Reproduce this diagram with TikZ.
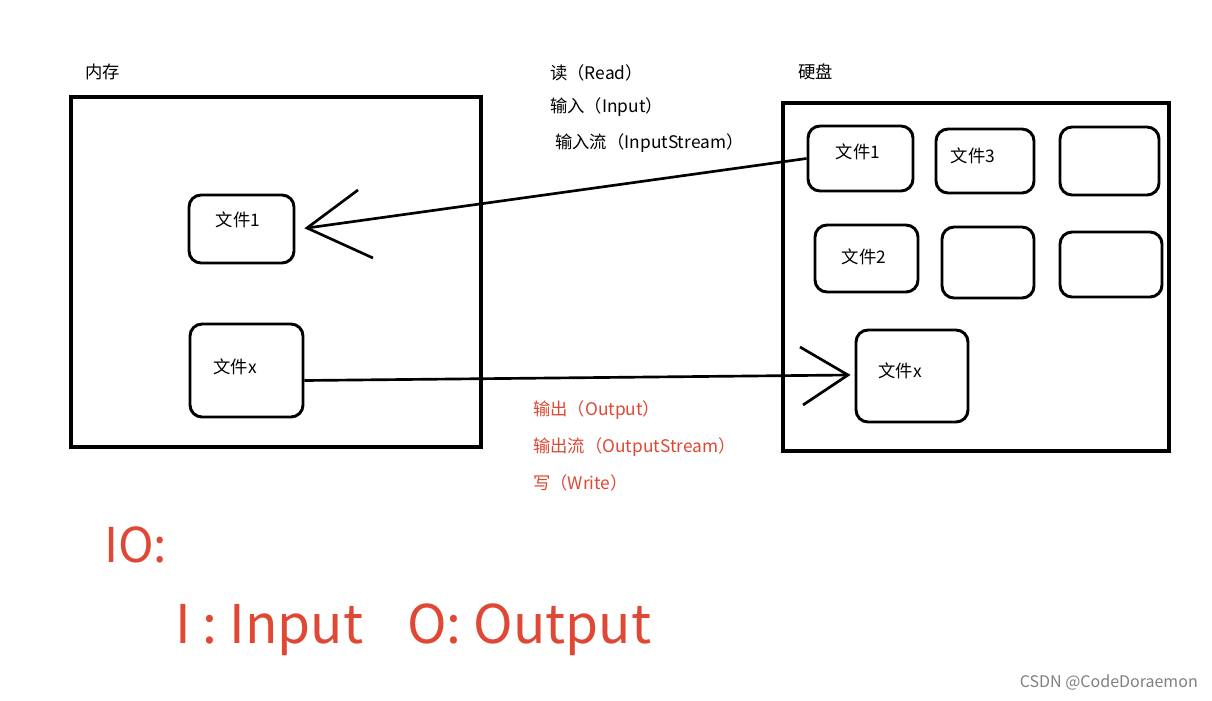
\documentclass[tikz,border=0pt]{standalone}
\usepackage{fontspec}
\setmainfont{Noto Sans CJK SC}
\definecolor{rd}{RGB}{222,72,52}
\begin{document}
\begin{tikzpicture}[x=0.75pt,y=-0.75pt,
  box/.style={draw,line width=2.6pt},
  f/.style={draw,line width=2.2pt,rounded corners=9pt},
  t/.style={font=\fontsize{13}{15}\selectfont,inner sep=0pt},
  r/.style={t,text=rd},
  con/.style={line width=2pt}]
\useasboundingbox[fill=white] (0,0) rectangle (1212,700);
\node[t,anchor=west] (nc) at (85,72) {内存};
\node[t,anchor=west] (hd) at (798,72) {硬盘};
\draw[box] (71,97) rectangle (481,447);
\draw[box] (783,103) rectangle (1169,451);
\node[f,minimum width=78.75pt,minimum height=51pt] (L1) at (241.5,229) {};
\node[t] at (238,220) {文件1};
\node[f,minimum width=84.75pt,minimum height=69.75pt] (Lx) at (246.5,370.5) {};
\node[t] at (235,367) {文件x};
\node[f,minimum width=78.75pt,minimum height=48.75pt] (R1) at (860.5,158.5) {};
\node[t] at (858,152) {文件1};
\node[f,minimum width=73.5pt,minimum height=48pt] (R3) at (985,161) {};
\node[t] at (973,156) {文件3};
\node[f,minimum width=74.25pt,minimum height=51pt] (Re1) at (1109.5,161) {};
\node[f,minimum width=77.25pt,minimum height=50.25pt] (R2) at (866.5,258.5) {};
\node[t] at (864,257) {文件2};
\node[f,minimum width=69pt,minimum height=53.25pt] (Re2) at (988,262.5) {};
\node[f,minimum width=76.5pt,minimum height=48.75pt] (Re3) at (1111,264.5) {};
\node[f,minimum width=84pt,minimum height=69pt] (Rx) at (912,376) {};
\node[t] at (900,371) {文件x};
\coordinate (a1) at (307,228);
\coordinate (a2) at (848,375);
\draw[con] (R1.west) -- (a1);
\draw[con] (358,190) -- (a1) -- (373,258);
\draw[con] (Lx.east) ++(0,10) -- (a2);
\draw[con] (800,347) -- (a2) -- (803,405);
\node[t,anchor=west] at (550,73) {读（Read）};
\node[t,anchor=west] at (550,107) {输入（Input）};
\node[t,anchor=west] at (555,143) {输入流（InputStream）};
\node[r,anchor=west] at (533,410) {输出（Output）};
\node[r,anchor=west] at (533,447) {输出流（OutputStream）};
\node[r,anchor=west] at (533,483) {写（Write）};
\node[r,anchor=west,font=\fontsize{36}{40}\selectfont] at (104,545) {IO:};
\node[r,anchor=west,font=\fontsize{40}{44}\selectfont] at (175,630) {I : Input\hspace{0.6em} O: Output};
\node[t,anchor=east,text=gray,font=\fontsize{12}{14}\selectfont] at (1198,683) {CSDN @CodeDoraemon};
\end{tikzpicture}
\end{document}
